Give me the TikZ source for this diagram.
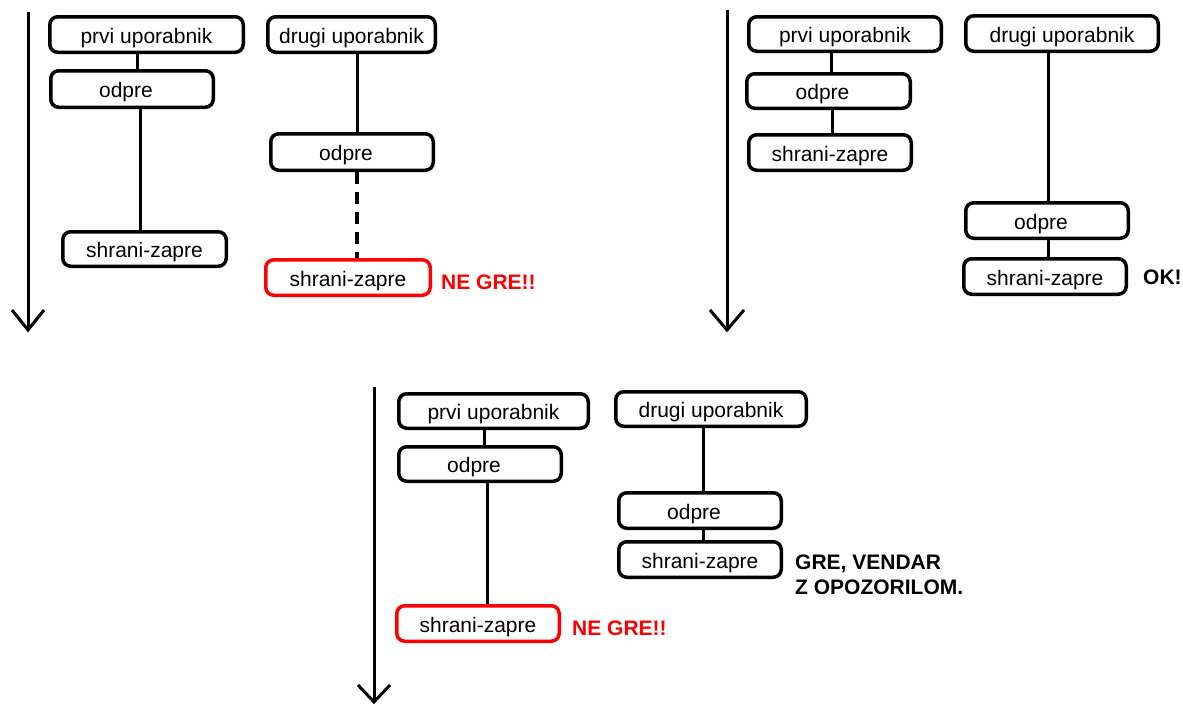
\documentclass[tikz,border=0pt]{standalone}
\usepackage{fontspec}
\setmainfont{Liberation Sans}
\definecolor{pured}{RGB}{255,0,0}
\newcommand{\shl}[1]{#1\hspace*{12pt}}
\begin{document}
\begin{tikzpicture}[x=1pt,y=-1pt,
  box/.style={draw, line width=3.5pt, rounded corners=8pt, inner sep=0pt,
    text height=21pt, text depth=4pt,
    font=\fontsize{21}{25}\selectfont},
  bw/.style={minimum width=#1-3.5pt},
  bh/.style={minimum height=#1-3.5pt},
  redbox/.style={box, draw=pured},
  conn/.style={line width=3pt},
  dconn/.style={line width=4pt, dash pattern=on 12pt off 8pt},
  timeline/.style={line width=3pt, line join=miter},
  verdict/.style={font=\fontsize{21}{25}\selectfont\bfseries, inner sep=0pt, anchor=west, align=left}]
\useasboundingbox (0,0) rectangle (1183,704);
\fill[white] (0,0) rectangle (1183,704);

% ---------- Panel 1 ----------
\coordinate (a1t) at (28,12); \coordinate (a1b) at (28,330);
\coordinate (a1l) at (12,310); \coordinate (a1r) at (44,310);
\draw[timeline] (a1t) -- (a1b);
\draw[timeline] (a1l) -- (a1b) -- (a1r);

\node[box, bw=197, bh=39] (p1) at (146.5,34.5) {prvi uporabnik};
\node[box, bw=166, bh=40] (o1) at (132,89) {\shl{odpre}};
\node[box, bw=167, bh=38] (s1) at (144.5,249) {shrani-zapre};
\node[box, bw=171, bh=39] (d1) at (351.5,34.5) {drugi uporabnik};
\node[box, bw=166, bh=40] (o2) at (352,152) {\shl{odpre}};
\node[redbox, bw=168, bh=39] (r1) at (348,277.5) {shrani-zapre};
\node[verdict, text=pured] (ne1) at (441,282) {NE GRE!!};

\coordinate (x1) at (137,0); \coordinate (x2) at (140,0); \coordinate (x3) at (357,0);
\draw[conn] (p1.south -| x1) -- (o1.north -| x1);
\draw[conn] (o1.south -| x2) -- (s1.north -| x2);
\draw[conn] (d1.south -| x3) -- (o2.north -| x3);
\draw[dconn] (o2.south -| x3) -- (r1.north -| x3);

% ---------- Panel 2 ----------
\coordinate (a2t) at (727,10); \coordinate (a2b) at (727,330);
\coordinate (a2l) at (710,310); \coordinate (a2r) at (744,310);
\draw[timeline] (a2t) -- (a2b);
\draw[timeline] (a2l) -- (a2b) -- (a2r);

\node[box, bw=196, bh=38] (p2) at (845,34) {prvi uporabnik};
\node[box, bw=167, bh=38] (o3) at (828.5,91) {\shl{odpre}};
\node[box, bw=166, bh=39] (s2) at (830,152.5) {shrani-zapre};
\node[box, bw=196, bh=39] (d2) at (1062,33.5) {drugi uporabnik};
\node[box, bw=166, bh=39] (o4) at (1047,220.5) {\shl{odpre}};
\node[box, bw=166, bh=39] (s3) at (1045,276.5) {shrani-zapre};
\node[verdict] (ok) at (1143,277) {OK!};

\coordinate (x4) at (831,0); \coordinate (x5) at (832,0); \coordinate (x6) at (1048,0);
\draw[conn] (p2.south -| x4) -- (o3.north -| x4);
\draw[conn] (o3.south -| x5) -- (s2.north -| x5);
\draw[conn] (d2.south -| x6) -- (o4.north -| x6);
\draw[conn] (o4.south -| x6) -- (s3.north -| x6);

% ---------- Panel 3 ----------
\coordinate (a3t) at (374,387); \coordinate (a3b) at (374,702);
\coordinate (a3l) at (358,685); \coordinate (a3r) at (390,685);
\draw[timeline] (a3t) -- (a3b);
\draw[timeline] (a3l) -- (a3b) -- (a3r);

\node[box, bw=193, bh=38] (p3) at (493.5,411) {prvi uporabnik};
\node[box, bw=166, bh=38] (o5) at (480,464) {\shl{odpre}};
\node[redbox, bw=166, bh=39] (r2) at (478,623.5) {shrani-zapre};
\node[verdict, text=pured] (ne2) at (572,628) {NE GRE!!};
\node[box, bw=194, bh=38] (d3) at (711,409) {drugi uporabnik};
\node[box, bw=166, bh=39] (o6) at (700,510.5) {\shl{odpre}};
\node[box, bw=166, bh=39] (s4) at (700,559.5) {shrani-zapre};
\node[verdict] (gre) at (795,574.5) {GRE, VENDAR\\Z OPOZORILOM.};

\coordinate (x7) at (484,0); \coordinate (x8) at (487,0); \coordinate (x9) at (703,0);
\draw[conn] (p3.south -| x7) -- (o5.north -| x7);
\draw[conn] (o5.south -| x8) -- (r2.north -| x8);
\draw[conn] (d3.south -| x9) -- (o6.north -| x9);
\draw[conn] (o6.south -| x9) -- (s4.north -| x9);
\end{tikzpicture}
\end{document}
